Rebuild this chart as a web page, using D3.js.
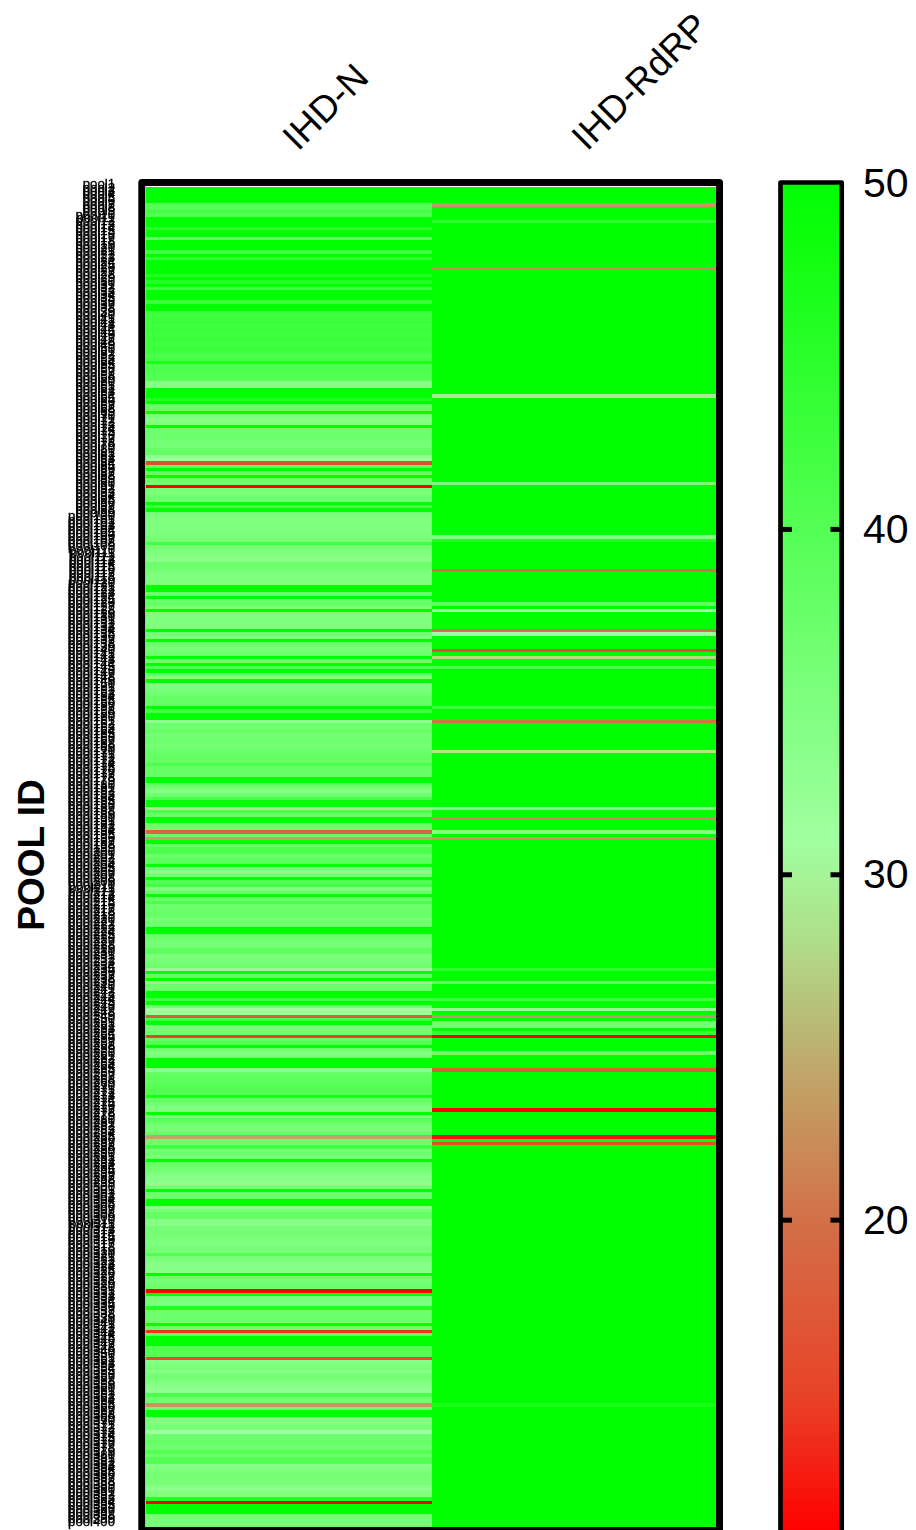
<!DOCTYPE html>
<html>
<head>
<meta charset="utf-8">
<script src="https://cdn.jsdelivr.net/npm/d3@7"></script>
<style>
    html, body { margin: 0; padding: 0; background: #fff; overflow: hidden; }
    svg { display: block; }
    text { font-family: "Liberation Sans", Arial, sans-serif; fill: #000; }
</style>
</head>
<body>
<svg id="chart" width="916" height="1530"></svg>
<script>
const assays = ['IHD-N', 'IHD-RdRP'];
const ihdN = [
    50,50,50,50,50,40,40,42,40,50,
    50,50,45,50,50,38,50,50,50,42,
    50,44,50,50,50,50,46,50,46,50,
    42,50,50,50,43,50,50,43,42,43,
    43,42,43,43,42,43,42,42,43,42,
    41,42,47,41,41,41,40,40,34,34,
    50,50,50,46,50,38,38,50,35,34,
    35,50,37,37,37,37,36,36,38,38,
    33,32,16,39,50,38,50,37,37,11,
    36,35,37,37,50,42,50,36,35,35,
    35,35,35,35,36,36,42,36,35,35,
    34,34,37,37,36,35,35,35,35,50,
    50,37,50,37,38,36,50,35,35,35,
    35,35,50,36,35,50,37,36,36,37,
    50,37,50,40,50,38,35,50,35,35,
    36,37,38,38,38,50,42,50,50,33,
    37,37,38,36,37,37,36,37,37,38,
    38,38,41,38,38,38,50,50,38,36,
    34,37,41,50,50,29,41,38,50,50,
    37,37,19,38,24,50,38,41,41,37,
    39,39,50,36,34,36,50,40,42,35,
    38,50,38,41,37,37,38,38,36,37,
    37,50,50,37,37,36,36,39,39,35,
    36,36,37,30,50,38,50,29,37,37,
    50,50,42,50,37,31,32,18,42,50,
    36,36,37,15,38,40,50,37,35,36,
    50,50,50,33,38,39,39,39,40,40,
    40,47,38,37,35,35,50,36,39,37,
    36,36,38,24,37,37,42,36,37,36,
    50,38,37,36,35,34,34,33,36,50,
    37,37,50,50,33,36,38,38,34,34,
    36,36,36,36,35,35,36,36,40,36,
    35,34,34,34,50,37,36,37,37,11,
    50,36,35,35,46,37,37,37,37,50,
    37,14,38,50,50,50,40,40,40,16,
    34,35,36,34,36,36,35,34,33,33,
    41,37,37,23,37,50,50,35,35,36,
    36,31,37,37,38,37,37,40,37,40,
    40,34,35,36,36,36,36,35,33,35,
    35,46,11,50,50,50,36,36,36,36
];
const ihdRdRP = [
    50,50,50,50,50,23,50,50,50,50,
    44,50,50,50,50,50,50,50,50,50,
    50,50,50,50,22,50,50,50,50,50,
    50,50,50,50,50,50,50,50,50,50,
    50,50,50,50,50,50,50,50,50,50,
    50,50,50,50,50,50,50,50,50,50,
    50,50,29,50,50,50,50,50,50,50,
    50,50,50,50,50,50,50,50,50,50,
    50,50,50,50,50,50,50,50,36,50,
    50,50,50,50,50,50,50,50,50,50,
    50,50,50,50,34,46,50,50,50,50,
    50,50,50,50,20,50,50,50,50,50,
    50,50,50,50,39,50,31,50,50,50,
    50,50,20,31,50,50,50,50,16,50,
    28,50,50,41,50,50,50,50,50,50,
    50,50,50,50,50,43,50,50,50,20,
    50,50,50,50,50,50,50,50,29,50,
    50,50,50,50,50,50,50,50,50,50,
    50,50,50,50,50,35,50,50,22,50,
    50,50,34,50,23,50,50,50,50,50,
    50,50,50,50,50,50,50,50,50,50,
    50,50,50,50,50,50,50,50,50,50,
    50,50,50,50,50,50,50,50,50,50,
    50,50,50,45,50,50,50,38,50,50,
    50,50,42,50,50,32,50,23,50,36,
    36,50,44,11,50,50,50,50,37,50,
    50,50,50,18,50,50,50,50,50,50,
    50,50,50,50,50,11,50,50,50,50,
    50,50,50,12,50,16,50,50,50,50,
    50,50,50,50,50,50,50,50,50,50,
    50,50,50,50,50,50,50,50,50,50,
    50,50,50,50,50,50,50,50,50,50,
    50,50,50,50,50,50,50,50,50,50,
    50,50,50,50,50,50,50,50,50,50,
    50,50,50,50,50,50,50,50,50,50,
    50,50,50,50,50,50,50,50,50,50,
    50,50,50,47,50,50,50,50,50,50,
    50,50,50,50,50,50,50,50,50,50,
    50,50,50,50,50,50,50,50,50,50,
    50,50,50,50,50,50,50,50,50,50
];
const poolIds = ihdN.map((d, i) => 'pool' + (i + 1));
const legendTicks = [20, 30, 40, 50];
const colorStops = [50, 31, 28, 25, 20, 15, 11];
const stopColors = ['#00ff00', '#a0ffa0', '#b0dc88', '#bcb070', '#d27048', '#e84428', '#ff0000'];

const svg = d3.select('#chart');

const colorScale = d3.scaleLinear()
    .domain(colorStops)
    .range(stopColors);

const xScale = d3.scaleBand()
    .domain(assays)
    .range([146, 717]);

const yScale = d3.scaleBand()
    .domain(poolIds)
    .range([186.5, 1527.5]);

const seriesByAssay = { 'IHD-N': ihdN, 'IHD-RdRP': ihdRdRP };

function rowTop(i) {
    return Math.round(yScale(poolIds[i]));
}

function rowHeight(i) {
    return Math.round(yScale(poolIds[i]) + yScale.bandwidth()) - rowTop(i);
}

// heatmap cells
assays.forEach(assay => {
    svg.append('g')
        .selectAll('rect')
        .data(seriesByAssay[assay])
        .enter()
        .append('rect')
        .attr('x', xScale(assay))
        .attr('y', (d, i) => rowTop(i))
        .attr('width', xScale.bandwidth())
        .attr('height', (d, i) => rowHeight(i))
        .attr('shape-rendering', 'crispEdges')
        .style('fill', d => colorScale(d));
});

// heatmap frame
svg.append('rect')
    .attr('x', 141.8)
    .attr('y', 182.4)
    .attr('width', 577.7)
    .attr('height', 1348)
    .attr('fill', 'none')
    .attr('stroke', '#000')
    .attr('stroke-width', 7)
    .attr('stroke-linejoin', 'round');

// pool labels, far too many for the row height so they overlap
const yAxis = d3.axisLeft(yScale).tickSize(0).tickPadding(0);
svg.append('g')
    .attr('transform', 'translate(115,-4)')
    .style('filter', 'grayscale(1)')
    .call(yAxis)
    .call(g => g.select('.domain').remove())
    .selectAll('text')
    .style('font-family', '"Liberation Sans", Arial, sans-serif')
    .style('font-size', '13.2px')
    .style('stroke', '#000')
    .style('stroke-width', '0.3px');

// column labels
const columnLabelX = { 'IHD-N': 298, 'IHD-RdRP': 587 };
svg.selectAll('.column-label')
    .data(assays)
    .enter()
    .append('text')
    .attr('class', 'column-label')
    .attr('transform', d => `translate(${columnLabelX[d]},152) rotate(-45)`)
    .style('font-size', '37px')
    .text(d => d);

svg.append('text')
    .attr('transform', 'translate(44,855) rotate(-90)')
    .attr('text-anchor', 'middle')
    .style('font-size', '37px')
    .style('font-weight', 'bold')
    .text('POOL ID');

// colour legend
const legendScale = d3.scaleLinear()
    .domain([11, 50])
    .range([1531, 184]);

const gradient = svg.append('defs')
    .append('linearGradient')
    .attr('id', 'legendGradient')
    .attr('gradientUnits', 'userSpaceOnUse')
    .attr('x1', 0).attr('x2', 0)
    .attr('y1', legendScale(50)).attr('y2', legendScale(11));

gradient.selectAll('stop')
    .data(colorStops)
    .enter()
    .append('stop')
    .attr('offset', d => (legendScale(d) - legendScale(50)) / (legendScale(11) - legendScale(50)))
    .attr('stop-color', d => colorScale(d));

svg.append('rect')
    .attr('x', 780.5)
    .attr('y', 182.5)
    .attr('width', 61.2)
    .attr('height', 1350)
    .attr('fill', 'url(#legendGradient)')
    .attr('stroke', '#000')
    .attr('stroke-width', 4.7)
    .attr('stroke-linejoin', 'round');

const innerTicks = legendTicks.filter(d => d < 50);
[[782, 792], [830.5, 840]].forEach(span => {
    svg.append('g')
        .selectAll('line')
        .data(innerTicks)
        .enter()
        .append('line')
        .attr('x1', span[0])
        .attr('x2', span[1])
        .attr('y1', d => legendScale(d))
        .attr('y2', d => legendScale(d))
        .attr('stroke', '#000')
        .attr('stroke-width', 5);
});

svg.selectAll('.legend-label')
    .data(legendTicks)
    .enter()
    .append('text')
    .attr('class', 'legend-label')
    .attr('x', 863)
    .attr('y', d => legendScale(d) - 1)
    .attr('dy', '0.35em')
    .style('font-size', '41px')
    .text(d => d);
</script>
</body>
</html>
